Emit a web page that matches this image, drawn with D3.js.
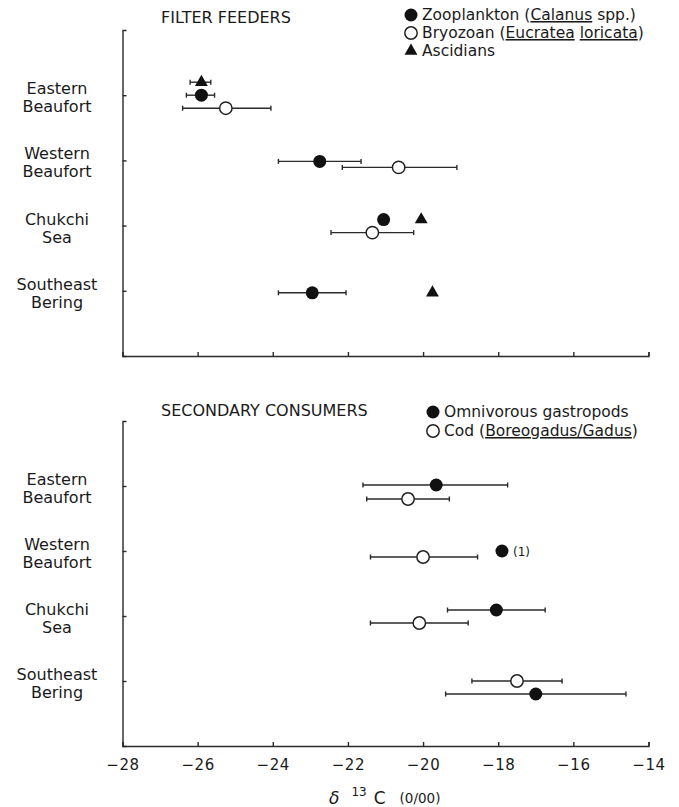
<!DOCTYPE html>
<html>
<head>
<meta charset="utf-8">
<script src="https://cdn.jsdelivr.net/npm/d3@7"></script>
<style>
  body { margin: 0; background: #fff; }
  text { font-family: "DejaVu Sans", sans-serif; fill: #1a1a1a; }
  .axis path, .axis line { stroke: #2a2a2a; stroke-width: 1.4; }
</style>
</head>
<body>
<svg id="chart" width="679" height="807"></svg>
<script>
// Regions (rows of both panels) and δ13C axis ticks
const regions = ["Eastern Beaufort", "Western Beaufort", "Chukchi Sea", "Southeast Bering"];
const xTicks = [-28, -26, -24, -22, -20, -18, -16, -14];

// Filter feeders: mean δ13C and range (null = not sampled / no range)
const zooplanktonMean = [-25.9, -22.75, -21.05, -22.95];
const zooplanktonLow  = [-26.3, -23.85, null, -23.85];
const zooplanktonHigh = [-25.55, -21.65, null, -22.05];

const bryozoanMean = [-25.25, -20.65, -21.35, null];
const bryozoanLow  = [-26.4, -22.15, -22.45, null];
const bryozoanHigh = [-24.05, -19.1, -20.25, null];

const ascidianMean = [-25.9, null, -20.05, -19.75];
const ascidianLow  = [-26.2, null, null, null];
const ascidianHigh = [-25.65, null, null, null];

// Secondary consumers
const gastropodMean = [-19.65, -17.9, -18.05, -17.0];
const gastropodLow  = [-21.6, null, -19.35, -19.4];
const gastropodHigh = [-17.75, null, -16.75, -14.6];

const codMean = [-20.4, -20.0, -20.1, -17.5];
const codLow  = [-21.5, -21.4, -21.4, -18.7];
const codHigh = [-19.3, -18.55, -18.8, -16.3];

// Sample-size notes attached to single points
const gastropodNotes = [null, "(1)", null, null];

// Vertical nudges (px) that keep overlapping symbols in a row apart
const dodge = {
  zooplankton: [0, 1, -6, 2],
  bryozoan:    [13, 7, 7, 0],
  ascidians:   [-13, 0, -6, 2],
  gastropods:  [-1, 0, -6, 13],
  cod:         [13, 6, 7, 0]
};

const svg = d3.select("#chart");
const x = d3.scaleLinear().domain([-28, -14]).range([122.5, 648.5]);
const fmt = d3.format("d");

function series(key, label, mean, low, high, symbol, notes) {
  return regions.map((r, i) => ({
    key, label, region: r, mean: mean[i], low: low[i], high: high[i],
    symbol, note: notes ? notes[i] : null, dy: dodge[key][i]
  })).filter(d => d.mean != null);
}

const panels = [
  {
    title: "FILTER FEEDERS", top: 30, bottom: 356, showLabels: false,
    titleY: 23, legendX: 411, legendY: 20, legendStep: 18,
    legend: [
      { symbol: "filled", parts: [["Zooplankton (", false], ["Calanus", true], [" spp.)", false]] },
      { symbol: "open", parts: [["Bryozoan (", false], ["Eucratea", true], [" ", false], ["loricata", true], [")", false]] },
      { symbol: "triangle", parts: [["Ascidians", false]] }
    ],
    data: [
      ...series("bryozoan", "Bryozoan", bryozoanMean, bryozoanLow, bryozoanHigh, "open"),
      ...series("zooplankton", "Zooplankton", zooplanktonMean, zooplanktonLow, zooplanktonHigh, "filled"),
      ...series("ascidians", "Ascidians", ascidianMean, ascidianLow, ascidianHigh, "triangle")
    ]
  },
  {
    title: "SECONDARY CONSUMERS", top: 421, bottom: 746, showLabels: true,
    titleY: 416, legendX: 433, legendY: 417, legendStep: 19,
    legend: [
      { symbol: "filled", parts: [["Omnivorous gastropods", false]] },
      { symbol: "open", parts: [["Cod (", false], ["Boreogadus/Gadus", true], [")", false]] }
    ],
    data: [
      ...series("cod", "Cod", codMean, codLow, codHigh, "open"),
      ...series("gastropods", "Omnivorous gastropods", gastropodMean, gastropodLow, gastropodHigh, "filled", gastropodNotes)
    ]
  }
];

function drawSymbol(sel, type) {
  if (type === "filled") {
    sel.append("circle").attr("r", 6.5).attr("fill", "#111");
  } else if (type === "open") {
    sel.append("circle").attr("r", 6.2).attr("fill", "#fff")
      .attr("stroke", "#222").attr("stroke-width", 1.5);
  } else {
    sel.append("path").attr("d", d3.symbol(d3.symbolTriangle, 72)()).attr("fill", "#111");
  }
}

panels.forEach(p => {
  const g = svg.append("g");
  const y = d3.scalePoint().domain(regions).range([p.top, p.bottom]).padding(1);

  // Row labels (two lines each)
  const labels = g.append("g").selectAll("text").data(regions).join("text")
    .attr("text-anchor", "middle").attr("font-size", 16);
  labels.each(function(r) {
    const words = r.split(" ");
    const t = d3.select(this);
    t.append("tspan").attr("x", 57).attr("y", y(r) - 1).text(words[0]);
    t.append("tspan").attr("x", 57).attr("y", y(r) + 17).text(words[1]);
  });

  // Left axis with inward ticks
  g.append("g").attr("class", "axis")
    .attr("transform", `translate(${x(-28)},0)`)
    .call(d3.axisRight(y).tickSize(4).tickSizeOuter(4).tickFormat(""))
    .call(a => a.selectAll("path").attr("fill", "none"));

  // Bottom axis with inward ticks
  const xa = d3.axisBottom(x).tickValues(xTicks).tickSizeInner(-4).tickSizeOuter(-4).tickPadding(13)
    .tickFormat(p.showLabels ? fmt : () => "");
  g.append("g").attr("class", "axis")
    .attr("transform", `translate(0,${p.bottom})`)
    .call(xa)
    .call(a => a.selectAll("path").attr("fill", "none"))
    .call(a => a.selectAll("text").attr("font-size", 15).attr("font-family", "DejaVu Sans")
      .attr("fill", "#1a1a1a").attr("letter-spacing", 0.6));

  // Panel title
  g.append("text").attr("x", 161).attr("y", p.titleY).attr("font-size", 16).text(p.title);

  // Legend
  p.legend.forEach((item, i) => {
    const ly = p.legendY + i * p.legendStep;
    const m = g.append("g").attr("transform", `translate(${p.legendX},${ly - 5})`);
    drawSymbol(m, item.symbol);
    const t = g.append("text").attr("x", p.legendX + 11).attr("y", ly).attr("font-size", 15.5);
    item.parts.forEach(([s, u]) => {
      const ts = t.append("tspan").text(s);
      if (u) ts.attr("text-decoration", "underline");
    });
  });

  // Range bars
  const bars = p.data.filter(d => d.low != null);
  const eb = g.append("g").attr("stroke", "#2a2a2a").attr("stroke-width", 1.4);
  eb.selectAll("line.span").data(bars).join("line")
    .attr("x1", d => x(d.low)).attr("x2", d => x(d.high))
    .attr("y1", d => y(d.region) + d.dy).attr("y2", d => y(d.region) + d.dy);
  eb.selectAll("line.capl").data(bars).join("line")
    .attr("x1", d => x(d.low)).attr("x2", d => x(d.low))
    .attr("y1", d => y(d.region) + d.dy - 2.5).attr("y2", d => y(d.region) + d.dy + 2.5);
  eb.selectAll("line.caph").data(bars).join("line")
    .attr("x1", d => x(d.high)).attr("x2", d => x(d.high))
    .attr("y1", d => y(d.region) + d.dy - 2.5).attr("y2", d => y(d.region) + d.dy + 2.5);

  // Means
  p.data.forEach(d => {
    const m = g.append("g").attr("transform", `translate(${x(d.mean)},${y(d.region) + d.dy})`);
    drawSymbol(m, d.symbol);
    if (d.note) {
      g.append("text").attr("x", x(d.mean) + 11).attr("y", y(d.region) + d.dy + 4.5)
        .attr("font-size", 12).text(d.note);
    }
  });
});

// Axis title: δ13C (‰ written as 0/00)
const title = svg.append("text").attr("x", 329).attr("y", 804);
title.append("tspan").attr("font-size", 17).attr("font-style", "italic").text("δ");
title.append("tspan").attr("font-size", 12).attr("dx", 12).attr("dy", -8).text("13");
title.append("tspan").attr("font-size", 17).attr("dx", 7).attr("dy", 8).text("C");
title.append("tspan").attr("font-size", 13.5).attr("dx", 14).attr("dy", -1).text("(0/00)");
</script>
</body>
</html>
